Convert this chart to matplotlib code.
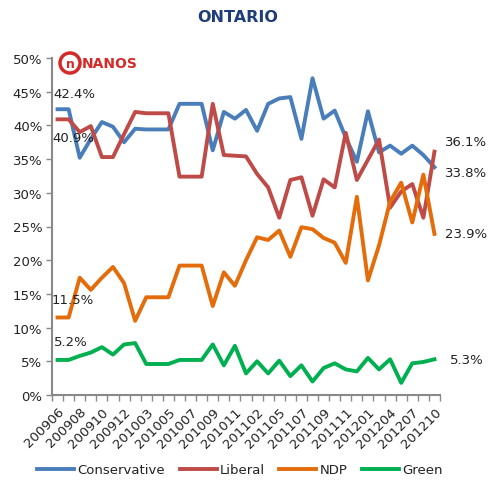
import numpy as np
import matplotlib
matplotlib.use("Agg")
import matplotlib.pyplot as plt
from matplotlib.patches import Ellipse

months = ['200906', '200907', '200908', '200909', '200910', '200911', '200912', '201001',
          '201003', '201004', '201005', '201006', '201007', '201008', '201009', '201010',
          '201011', '201101', '201102', '201103', '201105', '201106', '201107', '201108',
          '201109', '201110', '201111', '201112', '201201', '201202', '201204', '201205',
          '201207', '201208', '201210']

conservative = [42.4, 42.4, 35.2, 38.0, 40.5, 39.8, 37.5, 39.5, 39.4, 39.4, 39.4, 43.2,
                43.2, 43.2, 36.3, 42.0, 41.0, 42.3, 39.2, 43.2, 44.0, 44.2, 38.0, 47.0,
                41.0, 42.2, 38.2, 34.6, 42.1, 36.0, 37.0, 35.8, 37.0, 35.6, 33.8]
liberal = [40.9, 40.9, 39.0, 39.9, 35.3, 35.3, 38.7, 42.0, 41.8, 41.8, 41.8, 32.4,
           32.4, 32.4, 43.2, 35.6, 35.5, 35.4, 32.8, 30.8, 26.3, 31.9, 32.3, 26.6,
           32.0, 30.8, 38.9, 31.9, 34.9, 37.9, 27.8, 30.2, 31.3, 26.3, 36.1]
ndp = [11.5, 11.5, 17.4, 15.6, 17.4, 19.0, 16.6, 11.0, 14.5, 14.5, 14.5, 19.2,
       19.2, 19.2, 13.2, 18.2, 16.2, 20.0, 23.4, 23.0, 24.4, 20.5, 24.9, 24.6,
       23.3, 22.6, 19.6, 29.4, 17.0, 22.2, 28.7, 31.5, 25.6, 32.7, 23.9]
green = [5.2, 5.2, 5.8, 6.3, 7.1, 6.0, 7.5, 7.7, 4.6, 4.6, 4.6, 5.2,
         5.2, 5.2, 7.5, 4.4, 7.3, 3.2, 5.0, 3.2, 5.1, 2.8, 4.4, 2.0,
         4.0, 4.7, 3.8, 3.5, 5.5, 3.8, 5.3, 1.8, 4.7, 4.9, 5.3]

names = ['Conservative', 'Liberal', 'NDP', 'Green']
colors = ['#4A7EBB', '#BE4B48', '#E46C0A', '#00B050']

fig = plt.figure(figsize=(4.93, 4.85), dpi=100)
ax = fig.add_axes([52/493, 1 - 396/485, 388/493, 337/485])

x = np.arange(len(months))
for vals, name, c in zip([conservative, liberal, ndp, green], names, colors):
    ax.plot(x, vals, color=c, lw=2.8, label=name, solid_joinstyle='round')

ax.set_xlim(-0.5, len(months) - 0.5)
ax.set_ylim(0, 50)
ax.set_yticks(np.arange(0, 51, 5))
ax.set_yticklabels(['%d%%' % v for v in range(0, 51, 5)], fontsize=9.5, color='#222222')
ax.set_xticks(x[::2])
ax.set_xticklabels(months[::2], rotation=45, ha='right', rotation_mode='anchor',
                   fontsize=9.5, color='#222222')
ax.set_xticks(np.arange(-0.5, len(months), 1), minor=True)
ax.tick_params(axis='x', which='major', length=0, pad=7)
ax.tick_params(axis='x', which='minor', length=4, color='#898989', width=1)
ax.tick_params(axis='y', length=4, color='#898989', width=1, pad=3)

for s in ['top', 'right']:
    ax.spines[s].set_visible(False)
for s in ['left', 'bottom']:
    ax.spines[s].set_color('#898989')
    ax.spines[s].set_linewidth(1.5)

def lab(i, series, text, dx, dy, ha='left'):
    ax.annotate(text, (i, series[i]), xytext=(dx, dy), textcoords='offset pixels',
                ha=ha, va='center', fontsize=9.5, color='#222222')

lab(0, conservative, '42.4%', -4, 16)
lab(0, liberal, '40.9%', -5, -18)
lab(0, ndp, '11.5%', -6, 18)
lab(0, green, '5.2%', -4, 18)
last = len(months) - 1
lab(last, liberal, '36.1%', 11, 10)
lab(last, conservative, '33.8%', 11, -5)
lab(last, ndp, '23.9%', 11, 0)
lab(last, green, '5.3%', 15, 0)

fig.text(238/493, 1 - 18/485, 'ONTARIO', ha='center', va='center', fontsize=11.5,
         fontweight='bold', color='#1F3D7A')

# logo
fig.patches.append(Ellipse((70/493, 1 - 64/485), 20/493, 20/485, transform=fig.transFigure,
                           fill=False, ec='#D42A2A', lw=2.5))
fig.text(70/493, 1 - 64/485, 'n', ha='center', va='center', fontsize=9,
         fontweight='bold', color='#D42A2A')
fig.text(82/493, 1 - 64/485, 'NANOS', ha='left', va='center', fontsize=10,
         fontweight='heavy', color='#D42A2A')

fig.legend(loc='center', bbox_to_anchor=(240/493, 1 - 471/485), ncol=4, frameon=False,
           fontsize=9.5, handlelength=2.8, handletextpad=0.25, columnspacing=1.1,
           labelcolor='#222222')

fig.savefig('out.png', dpi=100)
